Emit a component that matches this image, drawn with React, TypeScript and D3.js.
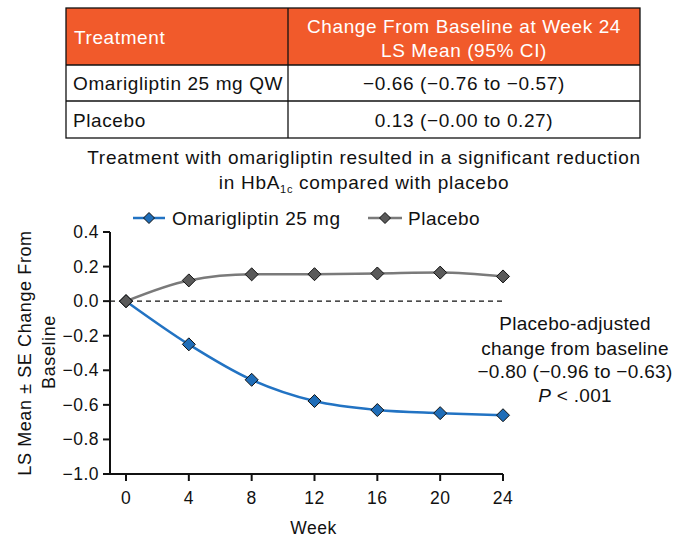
import * as React from "react";
import * as d3 from "d3";

// weeks on x axis
const weeks = [0, 4, 8, 12, 16, 20, 24];
// LS mean change from baseline
const omariValues = [0, -0.25, -0.455, -0.578, -0.63, -0.648, -0.66];
const placeboValues = [0, 0.12, 0.155, 0.156, 0.16, 0.165, 0.143];
const yTicks = [0.4, 0.2, 0.0, -0.2, -0.4, -0.6, -0.8, -1.0];

const tableRows = [
  { name: "Omarigliptin 25 mg QW", value: "\u22120.66 (\u22120.76 to \u22120.57)" },
  { name: "Placebo", value: "0.13 (\u22120.00 to 0.27)" },
];

const FONT = "'Liberation Sans', Arial, Helvetica, sans-serif";
const ORANGE = "#f15a2b";
const BLUE = "#2273c3";
const BLUE_FILL = "#1f6db8";
const GRAY = "#7a7a7a";
const GRAY_FILL = "#5a5a5a";

const Diamond = ({ x, y, fill, r = 6.5 }: { x: number; y: number; fill: string; r?: number }) => (
  <path
    d={`M${x},${y - r}L${x + r},${y}L${x},${y + r}L${x - r},${y}Z`}
    fill={fill}
    stroke="#111"
    strokeWidth={1}
  />
);

export default function App() {
  const width = 680;
  const height = 538;

  const x = d3.scaleLinear().domain([0, 24]).range([126, 503]);
  const y = d3.scaleLinear().domain([-1.0, 0.4]).range([474, 232]);

  const line = d3
    .line<number>()
    .x((_, i) => x(weeks[i]))
    .y((d) => y(d))
    .curve(d3.curveMonotoneX);

  const fmt = (v: number) => {
    const s = Math.abs(v).toFixed(1);
    return v < -1e-9 ? "\u2212" + s : s;
  };

  // table geometry
  const tL = 66, tR = 640, tDiv = 288;
  const rowY = [8, 65, 101, 138];
  const tableText = { fontSize: 19, letterSpacing: 0.6 };
  const axisText = { fontSize: 17.5, letterSpacing: 0.5 };

  return (
    <svg
      width={width}
      height={height}
      style={{ position: "absolute", left: 0, top: 0, fontFamily: FONT }}
    >
      <rect width={width} height={height} fill="#fff" />
      {/* table */}
      <rect x={tL} y={rowY[0]} width={tR - tL} height={rowY[1] - rowY[0]} fill={ORANGE} />
      <text x={tL + 8} y={44} {...tableText} fill="#fff">Treatment</text>
      <text x={(tDiv + tR) / 2} y={33} {...tableText} fill="#fff" textAnchor="middle">
        Change From Baseline at Week 24
      </text>
      <text x={(tDiv + tR) / 2} y={57} {...tableText} fill="#fff" textAnchor="middle">
        LS Mean (95% CI)
      </text>
      <g stroke="#111" strokeWidth={1.3} fill="none">
        <rect x={tL} y={rowY[0]} width={tR - tL} height={rowY[3] - rowY[0]} />
        <line x1={tL} x2={tR} y1={rowY[1]} y2={rowY[1]} />
        <line x1={tL} x2={tR} y1={rowY[2]} y2={rowY[2]} />
        <line x1={tDiv} x2={tDiv} y1={rowY[0]} y2={rowY[3]} />
      </g>
      {tableRows.map((r, i) => (
        <g key={r.name}>
          <text x={tL + 7} y={(rowY[i + 1] + rowY[i + 2]) / 2 + 7} {...tableText} fill="#111">
            {r.name}
          </text>
          <text
            x={(tDiv + tR) / 2}
            y={(rowY[i + 1] + rowY[i + 2]) / 2 + 7}
            {...tableText}
            fill="#111"
            textAnchor="middle"
          >
            {r.value}
          </text>
        </g>
      ))}

      {/* subtitle */}
      <text x={364} y={164} fontSize={19} letterSpacing={0.7} fill="#111" textAnchor="middle">
        Treatment with omarigliptin resulted in a significant reduction
      </text>
      <text x={364} y={189} fontSize={19} letterSpacing={0.7} fill="#111" textAnchor="middle">
        in HbA
        <tspan fontSize={11} dy={4}>1c</tspan>
        <tspan dy={-4}> compared with placebo</tspan>
      </text>

      {/* legend */}
      <line x1={133} x2={165} y1={218} y2={218} stroke={BLUE} strokeWidth={2.5} />
      <Diamond x={149} y={218} fill={BLUE_FILL} r={5.5} />
      <text x={172} y={225} fontSize={19} letterSpacing={0.5} fill="#111">Omarigliptin 25 mg</text>
      <line x1={368} x2={402} y1={218} y2={218} stroke={GRAY} strokeWidth={2.5} />
      <Diamond x={385} y={218} fill={GRAY_FILL} r={5.5} />
      <text x={408} y={225} fontSize={19} letterSpacing={0.5} fill="#111">Placebo</text>

      {/* axes */}
      <g stroke="#111" strokeWidth={2}>
        <line x1={110} x2={110} y1={y(0.4)} y2={y(-1.0)} />
        <line x1={110} x2={x(24)} y1={y(-1.0)} y2={y(-1.0)} />
        {yTicks.map((t) => (
          <line key={t} x1={103} x2={110} y1={y(t)} y2={y(t)} />
        ))}
        {weeks.map((w) => (
          <line key={w} x1={x(w)} x2={x(w)} y1={y(-1.0)} y2={y(-1.0) + 7} />
        ))}
      </g>
      {yTicks.map((t) => (
        <text key={t} x={99} y={y(t) + 6} {...axisText} fill="#111" textAnchor="end">
          {fmt(t)}
        </text>
      ))}
      {weeks.map((w) => (
        <text key={w} x={x(w)} y={504} {...axisText} fill="#111" textAnchor="middle">
          {w}
        </text>
      ))}
      <text x={(x(0) + x(24)) / 2 - 1} y={534} {...axisText} fill="#111" textAnchor="middle">
        Week
      </text>
      <text
        transform={`translate(31, 353) rotate(-90)`}
        fontSize={18}
        letterSpacing={0.6}
        fill="#111"
        textAnchor="middle"
      >
        LS Mean ± SE Change From
      </text>
      <text
        transform={`translate(55, 352) rotate(-90)`}
        fontSize={18}
        letterSpacing={0.6}
        fill="#111"
        textAnchor="middle"
      >
        Baseline
      </text>

      {/* zero reference */}
      <line
        x1={110}
        x2={x(24)}
        y1={y(0)}
        y2={y(0)}
        stroke="#111"
        strokeWidth={1.2}
        strokeDasharray="5,4"
      />

      {/* series */}
      <path d={line(placeboValues) || ""} fill="none" stroke={GRAY} strokeWidth={2.5} />
      <path d={line(omariValues) || ""} fill="none" stroke={BLUE} strokeWidth={2.5} />
      {omariValues.map((v, i) => (
        <Diamond key={"o" + i} x={x(weeks[i])} y={y(v)} fill={BLUE_FILL} />
      ))}
      {placeboValues.map((v, i) => (
        <Diamond key={"p" + i} x={x(weeks[i])} y={y(v)} fill={GRAY_FILL} />
      ))}

      {/* annotation */}
      <g fontSize={19} letterSpacing={0.3} fill="#111" textAnchor="middle">
        <text x={575} y={330}>Placebo-adjusted</text>
        <text x={575} y={355}>change from baseline</text>
        <text x={575} y={378}>{"\u22120.80 (\u22120.96 to \u22120.63)"}</text>
        <text x={575} y={402}>
          <tspan fontStyle="italic">P</tspan> {"<"} .001
        </text>
      </g>
    </svg>
  );
}
